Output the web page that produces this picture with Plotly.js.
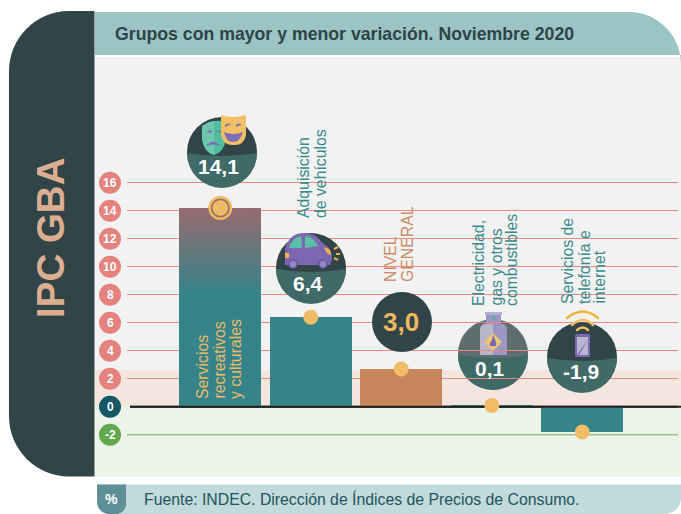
<!DOCTYPE html>
<html><head><meta charset="utf-8">
<script src="https://cdn.plot.ly/plotly-3.0.1.min.js"></script>
<style>html,body{margin:0;padding:0;background:#fff;overflow:hidden}</style>
</head><body><div id="chart" style="width:681px;height:514px"></div>
<script>
// ---- data ----
const categoryLines = [
  ["Servicios","recreativos","y culturales"],
  ["Adquisición","de vehículos"],
  ["NIVEL","GENERAL"],
  ["Electricidad,","gas y otros","combustibles"],
  ["Servicios de","telefonía e","internet"]
];
const valueLabels = ["14,1","6,4","3,0","0,1","-1,9"];
const barValues = [14.2, 6.4, 2.7, 0.1, -1.8];
const barColors = ["#35848a","#35848a","#c8865c","#35848a","#35848a"];
const tickValues = [16,14,12,10,8,6,4,2,0,-2];
const tickColors = ["#e5827e","#e5827e","#e5827e","#e5827e","#e5827e","#e5827e","#e5827e","#e5827e","#155764","#62a84e"];
const chartTitle = "Grupos con mayor y menor variación. Noviembre 2020";
const sideTitle = "IPC GBA";
const sourceText = "Fuente: INDEC. Dirección de Índices de Precios de Consumo.";

// ---- page geometry helpers (pixels <-> axis / paper) ----
const L=127,R=678,T=57,B=476, W=681,H=514;
const UX=90.5, UY=14, X0=220.3, Y0=406.8;
const X=p=>(p-X0)/UX, Y=p=>(Y0-p)/UY;
const PX=p=>(p-L)/(R-L), PY=p=>(B-p)/(B-T);
const pt=(x,y)=>PX(x)+","+PY(y);
const DARK="#314447", LOW="#3f6a68", GOLD="#f0bd66";

function rr(x0,y0,x1,y1,tl,tr,br,bl){ // rounded rectangle path in paper coords
  const k=0.45; let s="M"+pt(x0+tl,y0)+" L"+pt(x1-tr,y0);
  if(tr) s+=" C"+pt(x1-tr*k,y0)+" "+pt(x1,y0+tr*k)+" "+pt(x1,y0+tr);
  s+=" L"+pt(x1,y1-br);
  if(br) s+=" C"+pt(x1,y1-br*k)+" "+pt(x1-br*k,y1)+" "+pt(x1-br,y1);
  s+=" L"+pt(x0+bl,y1);
  if(bl) s+=" C"+pt(x0+bl*k,y1)+" "+pt(x0,y1-bl*k)+" "+pt(x0,y1-bl);
  s+=" L"+pt(x0,y0+tl);
  if(tl) s+=" C"+pt(x0,y0+tl*k)+" "+pt(x0+tl*k,y0)+" "+pt(x0+tl,y0);
  return s+" Z";
}
const chrome=(path,fill)=>({type:"path",xref:"paper",yref:"paper",path:path,fillcolor:fill,line:{width:0},layer:"below"});

const shapes=[
  chrome(rr(95,57,681,476.5,0,0,0,0),"#f2f2f2"),
  chrome(rr(95,370,681,406,0,0,0,0),"#f4e6de"),
  chrome(rr(95,406,681,476.5,0,0,0,0),"#ecf4e9"),
  chrome(rr(9,11,94.5,476.5,60,0,0,60),DARK),
  chrome(rr(95,12,681,55,0,52,0,0),"#9bc4c4"),
  chrome(rr(97,484.5,681,514,0,0,16,14),"#c2dadb"),
  chrome(rr(97,484.5,126,514,0,0,10,12),"#5f8f97"),
  {type:"line",xref:"paper",yref:"y",x0:0,x1:1,y0:-2,y1:-2,line:{color:"#6fa95c",width:1},layer:"below"},
  {type:"line",xref:"paper",yref:"y",x0:PX(130),x1:PX(681),y0:0,y1:0,line:{color:"#222",width:2},layer:"below"}
];
tickValues.forEach((v,i)=>shapes.push({type:"circle",xref:"paper",yref:"y",xsizemode:"pixel",ysizemode:"pixel",
  xanchor:PX(110),yanchor:v,x0:-11,x1:11,y0:-11,y1:11,fillcolor:tickColors[i],line:{width:0},layer:"above"}));

// ---- icons ----
function svg(w,h,body){
  return "data:image/svg+xml;charset=utf-8,"+encodeURIComponent(
   `<svg xmlns="http://www.w3.org/2000/svg" width="${w}" height="${h}" viewBox="0 0 ${w} ${h}">${body}</svg>`);
}
function disc(cx,cy,r,top,low){
  return `<circle cx="${cx}" cy="${cy}" r="${r}" fill="${top}"/>`+
   `<path d="M${cx-r} ${cy+1} Q${cx} ${cy+7} ${cx+r} ${cy+1} A${r} ${r} 0 0 1 ${cx-r} ${cy+1}Z" fill="${low}"/>`;
}
const maskSvg=svg(90,90,disc(42,47,35,DARK,LOW)+
 `<path d="M22 21 Q33 13 46 17 L46 34 Q44 47 34 50 Q24 47 22 34Z" fill="#4fbf9f"/>
  <path d="M22 21 Q28 17 34 16 L34 50 Q24 47 22 34Z" fill="#6cc7ad"/>
  <path d="M26 27 q3 -3 6 -1 l-1 2 q-3 -1 -5 -1z M36 26 q3 -1 6 1 l-1 1 q-3 -1 -5 -1z" fill="#7d6fb4"/>
  <path d="M26 41 q7 -9 14 0 q-7 -3 -14 0z" fill="#7d6fb4"/>
  <path d="M41 10 Q53 14 66 10 L66 30 Q64 41 53 40 Q43 40 41 30Z" fill="#f3c065"/>
  <path d="M45 20 q3 -3 6 0 q-3 0 -6 2z M56 20 q3 -3 6 0 q-3 0 -6 2z" fill="#7d6fb4"/>
  <path d="M44 27 Q53 31 63 27 Q60 37 53 37 Q46 37 44 27Z" fill="#7d6fb4"/>`);
const carSvg=svg(85,85,disc(41,43,35,DARK,LOW)+
 `<path d="M15 40 L15 24 Q18 12 27 9 Q38 6 47 12 L55 20 Q62 23 62 34 L60 40 Z" fill="#7b68b0"/>
  <path d="M19 23 Q22 13 31 11 L32 23Z M35 11 Q42 10 48 21 L35 23Z" fill="#58c0a5"/>
  <circle cx="23" cy="39" r="4" fill="#9486c4" stroke="#6a59a0" stroke-width="1.5"/>
  <circle cx="53" cy="39" r="4" fill="#9486c4" stroke="#6a59a0" stroke-width="1.5"/>
  <path d="M15 28 L19 28 L19 33 L15 33Z" fill="#f0b14a"/>
  <path d="M54 22 Q62 24 61 30 Q56 29 54 22Z" fill="#f0b14a"/>
  <path d="M64 24 L68 22 M66 29 L70 29 M64 33 L68 35" stroke="#f0b14a" stroke-width="2" fill="none"/>`);
const gasSvg=svg(85,90,
 `<circle cx="43" cy="50" r="35" fill="#4d5b5b" opacity="0.6"/>`+disc(43,49,35,"#5e6e6e",LOW)+
 `<path d="M36 8 H51 V19 H36Z" fill="#9c96c4"/><path d="M35 7 H52 V10 H35Z" fill="#b4aed4"/>
  <rect x="42" y="11" width="3" height="3" fill="#48b59a"/>
  <path d="M43 19 H53 Q57 20 57 25 V50 H43Z" fill="#9c96c4"/>
  <path d="M30 25 Q30 20 34 19 H43 V50 H30Z" fill="#b8b6c8"/>
  <path d="M43 28 L52 37 L43 46 L34 37Z" fill="#eec574"/>
  <path d="M43 30 Q47 37 46 41 H40 Q39 38 42 35Z" fill="#7b68b0"/>`);
const phoneSvg=svg(85,90,disc(42,52,35,DARK,LOW)+
 `<g fill="none" stroke="#f0b239" stroke-linecap="round"><path d="M27 13 Q43 0 58 13" stroke-width="2.5"/>
  <path d="M32 20 Q43 10 53 20" stroke-width="2.5" stroke="#f3c065"/><path d="M37 25 Q43 20 48 25" stroke-width="2.5" stroke="#f3c065"/></g>
  <rect x="35" y="29" width="15" height="23" rx="1.5" fill="#7b68b0"/>
  <path d="M37 32 H48 V34 L37 50Z M48 34 V50 H39Z" fill="#b9b6cf"/>`);
const threeSvg=svg(62,62,`<circle cx="31" cy="31" r="30" fill="${DARK}"/>`);
const gradSvg=svg(82,86,`<defs><linearGradient id="g" x1="0" y1="0" x2="0" y2="1"><stop offset="0" stop-color="#966b6e"/><stop offset="1" stop-color="#35848a"/></linearGradient></defs><rect width="82" height="86" fill="url(#g)"/>`);
const ringSvg=svg(26,26,`<circle cx="13" cy="13" r="12" fill="#eeb95f"/><circle cx="13" cy="13" r="8.6" fill="#f0bd66" stroke="#98736e" stroke-width="1.8"/>`);

function img(src,bx,by,w,h,layer){
  return {source:src,xref:"x",yref:"y",x:X(bx),y:Y(by),sizex:w/UX,sizey:h/UY,xanchor:"left",yanchor:"top",sizing:"stretch",layer:layer||"above"};
}
const images=[
  img(gasSvg,450,305,85,90,"below"),
  img(gradSvg,179,208,82,86),
  img(maskSvg,180,105,90,90),
  img(carSvg,270,225,85,85),
  img(threeSvg,371,291,62,62),
  img(phoneSvg,540,305,85,90),
  {source:ringSvg,xref:"x",yref:"y",x:0,y:barValues[0],sizex:26/UX,sizey:26/UY,xanchor:"center",yanchor:"middle",sizing:"stretch",layer:"above"}
];

// ---- text ----
const FONT='"Liberation Sans", Arial, sans-serif';
const annotations=[];
function txt(o){ annotations.push(Object.assign({showarrow:false,xref:"paper",yref:"paper",borderpad:0},o)); }
txt({x:PX(114),y:PY(34),xanchor:"left",yanchor:"middle",text:"<b>"+chartTitle+"</b>",font:{family:FONT,size:17.7,color:"#2f4447"}});
txt({x:PX(50),y:PY(238),xanchor:"center",yanchor:"middle",textangle:-90,text:"<b>"+sideTitle+"</b>",font:{family:FONT,size:38.5,color:"#dcae91"}});
txt({x:PX(111.5),y:PY(499.5),xanchor:"center",yanchor:"middle",text:"<b>%</b>",font:{family:FONT,size:14,color:"#fff"}});
txt({x:PX(143),y:PY(499.5),xanchor:"left",yanchor:"middle",text:sourceText,font:{family:FONT,size:15.8,color:"#1e5560"}});
tickValues.forEach(v=>txt({x:PX(110),yref:"y",y:v,xanchor:"center",yanchor:"middle",text:"<b>"+v+"</b>",font:{family:FONT,size:12,color:"#fff"}}));

const labelXs=[[202,219,235],[303,320],[390,407],[478,496,511],[567,584,599]];
const labelBottoms=[400,219.5,283,307,305];
const labelColors=["#eabb68","#3a8a8c","#cc8c65","#3a8a8c","#3a8a8c"];
categoryLines.forEach((lines,i)=>lines.forEach((t,j)=>{
  txt({x:PX(labelXs[i][j]),y:PY(labelBottoms[i]),xanchor:"center",yanchor:"bottom",textangle:-90,text:t,font:{family:FONT,size:15.8,color:labelColors[i]}});
}));
const valueXs=[218.5,308,400.5,489.5,580.5], valueYs=[166.5,283,322,368,371];
const valueColors=["#fff","#fff","#eeb95f","#fff","#fff"], valueSizes=[21,21,26,21,21];
valueLabels.forEach((t,i)=>txt({x:PX(valueXs[i]),y:PY(valueYs[i]),xanchor:"center",yanchor:"middle",text:"<b>"+t+"</b>",font:{family:FONT,size:valueSizes[i],color:valueColors[i]}}));

// ---- traces ----
const xs=barValues.map((_,i)=>i);
const traces=[
 {type:"bar",x:xs,y:barValues,width:82/UX,marker:{color:barColors,line:{width:0}},hoverinfo:"skip"},
 {type:"scatter",mode:"lines",x:[X(130),X(678)],y:[0,0],line:{color:"#222",width:2},hoverinfo:"skip"},
 {type:"scatter",mode:"markers",x:xs.slice(1),y:barValues.slice(1),marker:{size:15,color:GOLD},cliponaxis:false,hoverinfo:"skip"}
];
const layout={
  width:W,height:H,showlegend:false,bargap:0,
  margin:{l:L,r:W-R,t:T,b:H-B,pad:0},
  paper_bgcolor:"#fff",plot_bgcolor:"rgba(0,0,0,0)",
  xaxis:{range:[X(L),X(R)],showgrid:false,zeroline:false,showticklabels:false,ticks:"",fixedrange:true},
  yaxis:{range:[Y(B),Y(T)],tickmode:"array",tickvals:[2,4,6,8,10,12,14,16],showgrid:true,gridcolor:"#e98880",gridwidth:1.2,zeroline:false,showticklabels:false,ticks:"",fixedrange:true},
  shapes:shapes,images:images,annotations:annotations
};
Plotly.newPlot("chart",traces,layout,{displayModeBar:false,staticPlot:true});
</script></body></html>
